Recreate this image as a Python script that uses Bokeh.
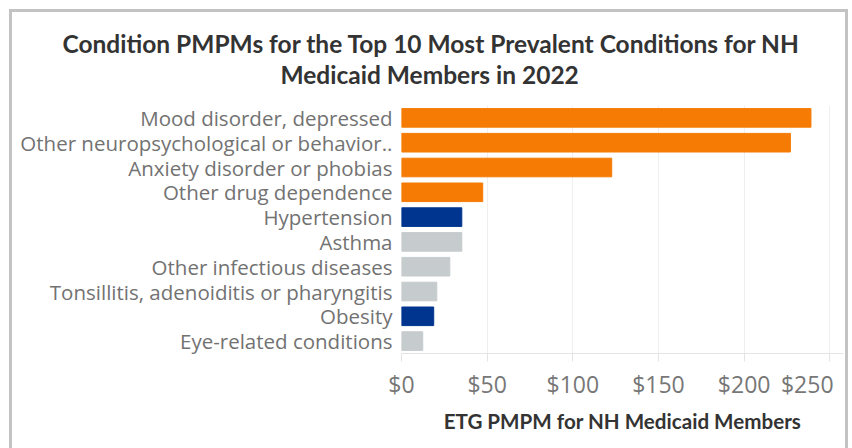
from bokeh.plotting import figure
from bokeh.models import (FactorRange, Range1d, FixedTicker, ColumnDataSource, Title)
from bokeh.embed import file_html
from bokeh.resources import INLINE

categories = [
    "Mood disorder, depressed",
    "Other neuropsychological or behavior..",
    "Anxiety disorder or phobias",
    "Other drug dependence",
    "Hypertension",
    "Asthma",
    "Other infectious diseases",
    "Tonsillitis, adenoiditis or pharyngitis",
    "Obesity",
    "Eye-related conditions",
]
pmpm = [239.0, 227.0, 122.7, 47.4, 35.2, 35.2, 28.2, 20.6, 18.8, 12.4]
groups = ["Behavioral", "Behavioral", "Behavioral", "Behavioral", "Chronic",
          "Other", "Other", "Other", "Chronic", "Other"]
group_colors = {"Behavioral": "#F57B05", "Chronic": "#00358F", "Other": "#C6CBCE"}
tick_values = [0, 50, 100, 150, 200, 250]
tick_labels = ["$0", "$50", "$100", "$150", "$200", "$250"]
title_lines = ["Condition PMPMs for the Top 10 Most Prevalent Conditions for NH",
               "Medicaid Members in 2022"]
x_title = "ETG PMPM for NH Medicaid Members"

source = ColumnDataSource(dict(
    cat=categories, val=pmpm, color=[group_colors[g] for g in groups]))

p = figure(
    width=839, height=439,
    y_range=FactorRange(factors=list(reversed(categories)), range_padding=0),
    x_range=Range1d(0, 258),
    output_backend="svg", toolbar_location=None,
    min_border_left=389, min_border_right=8, min_border_top=93, min_border_bottom=98,
    margin=(9, 0, 0, 9),
    styles={"border": "3px solid #c3c3c3", "border-bottom": "none"},
)
p.outline_line_color = None
p.background_fill_color = "white"
p.border_fill_color = "white"

p.hbar(y="cat", right="val", left=0, height=0.75, color="color", source=source)

# x axis
p.xaxis.ticker = FixedTicker(ticks=tick_values)
overrides = {v: l for v, l in zip(tick_values, tick_labels)}
overrides[250] = tick_labels[-1] + "\u00a0" * 2
p.xaxis.major_label_overrides = overrides
p.xaxis.axis_line_color = "#e4e4e4"
p.xaxis.major_tick_line_color = "#e4e4e4"
p.xaxis.major_tick_out = 8
p.xaxis.major_tick_in = 0
p.xaxis.minor_tick_line_color = None
p.xaxis.major_label_standoff = 6
p.xaxis.major_label_text_font = "Open Sans"
p.xaxis.major_label_text_font_size = "23px"
p.xaxis.major_label_text_color = "#777777"
p.xaxis.axis_label = x_title
p.xaxis.axis_label_text_font = "Lato"
p.xaxis.axis_label_text_font_style = "bold"
p.xaxis.axis_label_text_font_size = "20.6px"
p.xaxis.axis_label_text_color = "#333333"
p.xaxis.axis_label_standoff = 6

# y axis
p.yaxis.axis_line_color = None
p.yaxis.major_tick_line_color = None
p.yaxis.minor_tick_line_color = None
p.yaxis.major_tick_out = 0
p.yaxis.major_tick_in = 0
p.yaxis.major_label_standoff = 9
p.yaxis.major_label_text_font = "Open Sans"
p.yaxis.major_label_text_font_size = "20.5px"
p.yaxis.major_label_text_color = "#727272"

p.xgrid.grid_line_color = "#efefef"
p.ygrid.grid_line_color = None

# title: two lines, nearest-to-plot first
for line, off, so in [(title_lines[1], -121, 34), (title_lines[0], -339, -34)]:
    p.add_layout(Title(text=line, align="left", offset=off, standoff=so,
                       text_font="Lato", text_font_style="bold",
                       text_font_size="24.5px", text_color="#333333"), "above")

open("out.html", "w").write(file_html(p, INLINE))
